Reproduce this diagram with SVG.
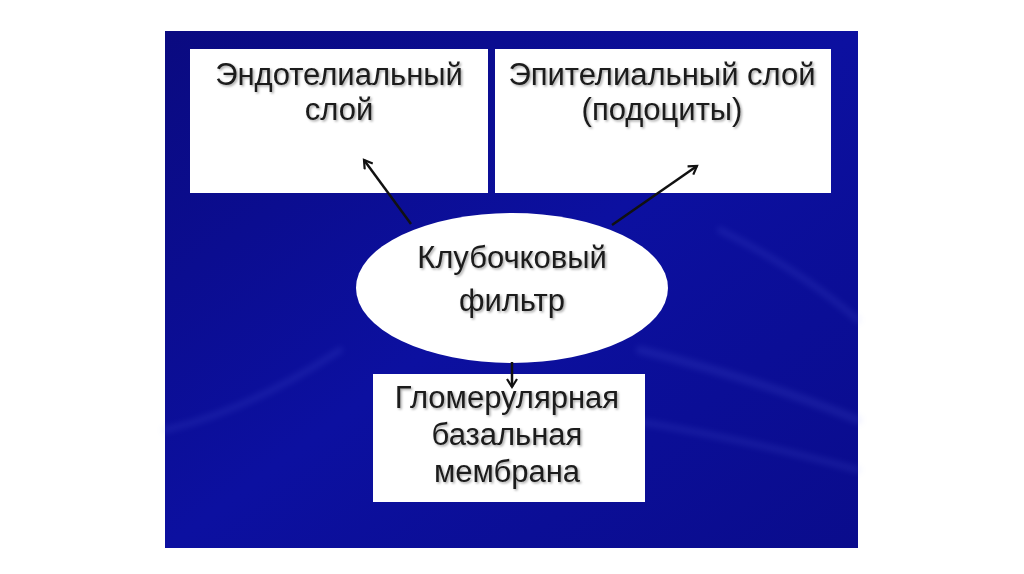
<svg xmlns="http://www.w3.org/2000/svg" width="1024" height="574" viewBox="0 0 1024 574">
  <style>
    .box { fill: #ffffff; }
    .lbl { font-family: "Liberation Sans", Arial, sans-serif; font-size: 31px; fill: #1a1a1a; text-anchor: middle; filter: url(#shadow); }
    .conn { stroke: #111111; stroke-width: 2.5; fill: none; marker-end: url(#arrow); }
  </style>
  <defs>
    <linearGradient id="bg" x1="0" y1="0" x2="1" y2="1">
      <stop offset="0" stop-color="#0a0a80"/>
      <stop offset="0.5" stop-color="#0c10a0"/>
      <stop offset="1" stop-color="#0a0c8c"/>
    </linearGradient>
    <filter id="shadow" x="-10%" y="-20%" width="120%" height="150%">
      <feDropShadow dx="1.5" dy="1.5" stdDeviation="1" flood-color="#000000" flood-opacity="0.35"/>
    </filter>
    <filter id="blur"><feGaussianBlur stdDeviation="3"/></filter>
    <marker id="arrow" markerWidth="12" markerHeight="12" refX="9" refY="6" orient="auto" markerUnits="userSpaceOnUse" viewBox="0 0 12 12">
      <path d="M1,1 L9,6 L1,11" fill="none" stroke="#111111" stroke-width="2.2"/>
    </marker>
  </defs>
  <rect x="0" y="0" width="1024" height="574" fill="#ffffff"/>
  <rect x="165" y="31" width="693" height="517" fill="url(#bg)"/>
  <g opacity="0.12" fill="none" stroke="#8090ff" stroke-linecap="round" filter="url(#blur)">
    <path d="M640,350 Q760,380 858,420" stroke-width="8"/>
    <path d="M630,420 Q750,440 858,470" stroke-width="6"/>
    <path d="M720,230 Q800,270 858,320" stroke-width="6"/>
    <path d="M165,430 Q250,410 340,350" stroke-width="6"/>
  </g>
  <g id="node-endothelial">
    <rect class="box" x="190" y="49" width="298" height="144"/>
    <text class="lbl" x="339" y="85">Эндотелиальный</text>
    <text class="lbl" x="339" y="120">слой</text>
  </g>
  <g id="node-epithelial">
    <rect class="box" x="495" y="49" width="336" height="144"/>
    <text class="lbl" x="662" y="85">Эпителиальный слой</text>
    <text class="lbl" x="662" y="120">(подоциты)</text>
  </g>
  <g id="node-filter">
    <ellipse class="box" cx="512" cy="288" rx="156" ry="75"/>
    <text class="lbl" x="512" y="268">Клубочковый</text>
    <text class="lbl" x="512" y="311">фильтр</text>
  </g>
  <g id="node-membrane">
    <rect class="box" x="373" y="374" width="272" height="128"/>
    <text class="lbl" x="507" y="408">Гломерулярная</text>
    <text class="lbl" x="507" y="445">базальная</text>
    <text class="lbl" x="507" y="482">мембрана</text>
  </g>
  <g id="connectors">
    <line class="conn" x1="411" y1="224" x2="364" y2="160"/>
    <line class="conn" x1="612" y1="225" x2="697" y2="166"/>
    <line class="conn" x1="512" y1="362" x2="512" y2="387"/>
  </g>
</svg>
